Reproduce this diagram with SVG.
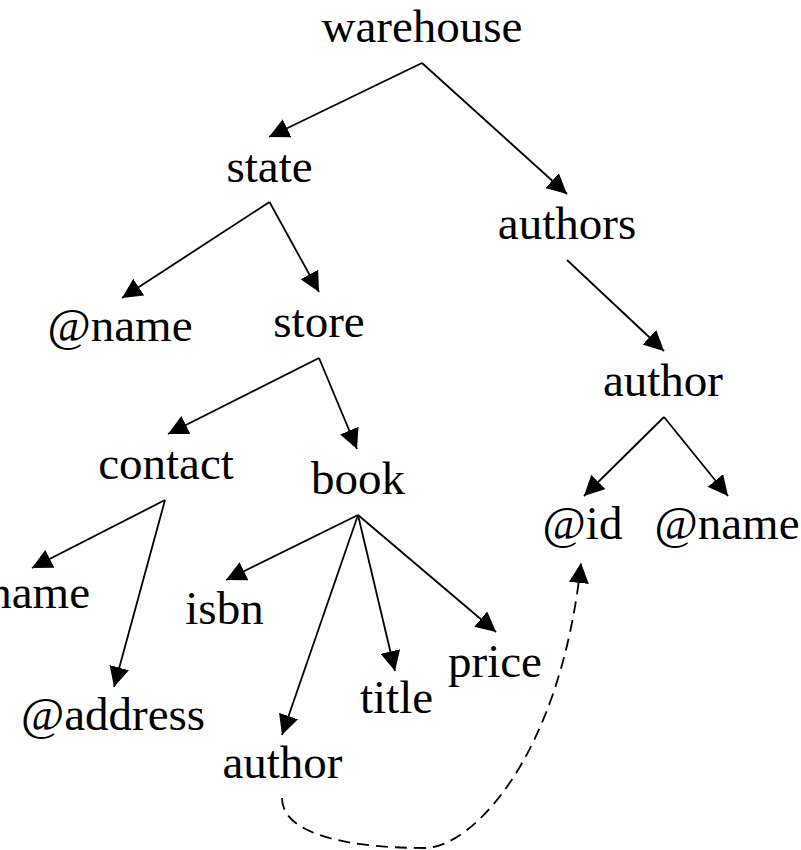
<svg xmlns="http://www.w3.org/2000/svg" width="801" height="850" viewBox="0 0 801 850">
<style>
text{font-family:"Liberation Serif","Times New Roman",serif;font-size:47px;fill:#000;text-anchor:middle}
.e{fill:none;stroke:#000;stroke-width:1.8;marker-end:url(#ah)}
.d{stroke-dasharray:12 7}
</style>
<defs>
<marker id="ah" viewBox="0 0 20 20" refX="20" refY="10" markerWidth="20" markerHeight="20" markerUnits="userSpaceOnUse" orient="auto">
<path d="M0,0 L20,10 L0,20 z" fill="#000"/>
</marker>
</defs>
<rect width="801" height="850" fill="#fff"/>
<g id="connectors">
<line class="e" x1="422" y1="63" x2="269" y2="137"/>
<line class="e" x1="422" y1="63" x2="567" y2="194"/>
<line class="e" x1="269.5" y1="202" x2="122" y2="298"/>
<line class="e" x1="269.5" y1="202" x2="319" y2="292"/>
<line class="e" x1="567" y1="260" x2="664" y2="351"/>
<line class="e" x1="319" y1="358" x2="168" y2="434"/>
<line class="e" x1="319" y1="358" x2="357" y2="449"/>
<line class="e" x1="664" y1="417" x2="584" y2="496"/>
<line class="e" x1="664" y1="417" x2="728" y2="496"/>
<line class="e" x1="165" y1="500" x2="32" y2="568"/>
<line class="e" x1="165" y1="500" x2="114" y2="687"/>
<line class="e" x1="358" y1="515" x2="226" y2="580"/>
<line class="e" x1="358" y1="515" x2="282" y2="735"/>
<line class="e" x1="358" y1="515" x2="395" y2="671"/>
<line class="e" x1="358" y1="515" x2="496" y2="632"/>
<path class="e d" d="M282,798 C282,835 350,848 425,848 C470,848 560,760 581,563"/>
</g>
<g id="n-warehouse"><text x="422" y="42">warehouse</text></g>
<g id="n-state"><text x="269.5" y="182">state</text></g>
<g id="n-authors"><text x="567" y="239">authors</text></g>
<g id="n-name1"><text x="120" y="341">@name</text></g>
<g id="n-store"><text x="319" y="337">store</text></g>
<g id="n-author1"><text x="663" y="396">author</text></g>
<g id="n-contact"><text x="166" y="479">contact</text></g>
<g id="n-book"><text x="358" y="494">book</text></g>
<g id="n-id"><text x="582.5" y="539">@id</text></g>
<g id="n-name2"><text x="727" y="539">@name</text></g>
<g id="n-name3"><text x="90" y="608" style="text-anchor:end">name</text></g>
<g id="n-isbn"><text x="224.5" y="624">isbn</text></g>
<g id="n-price"><text x="495" y="677">price</text></g>
<g id="n-title"><text x="396.5" y="713">title</text></g>
<g id="n-address"><text x="113" y="730">@address</text></g>
<g id="n-author2"><text x="282.5" y="778">author</text></g>
</svg>
